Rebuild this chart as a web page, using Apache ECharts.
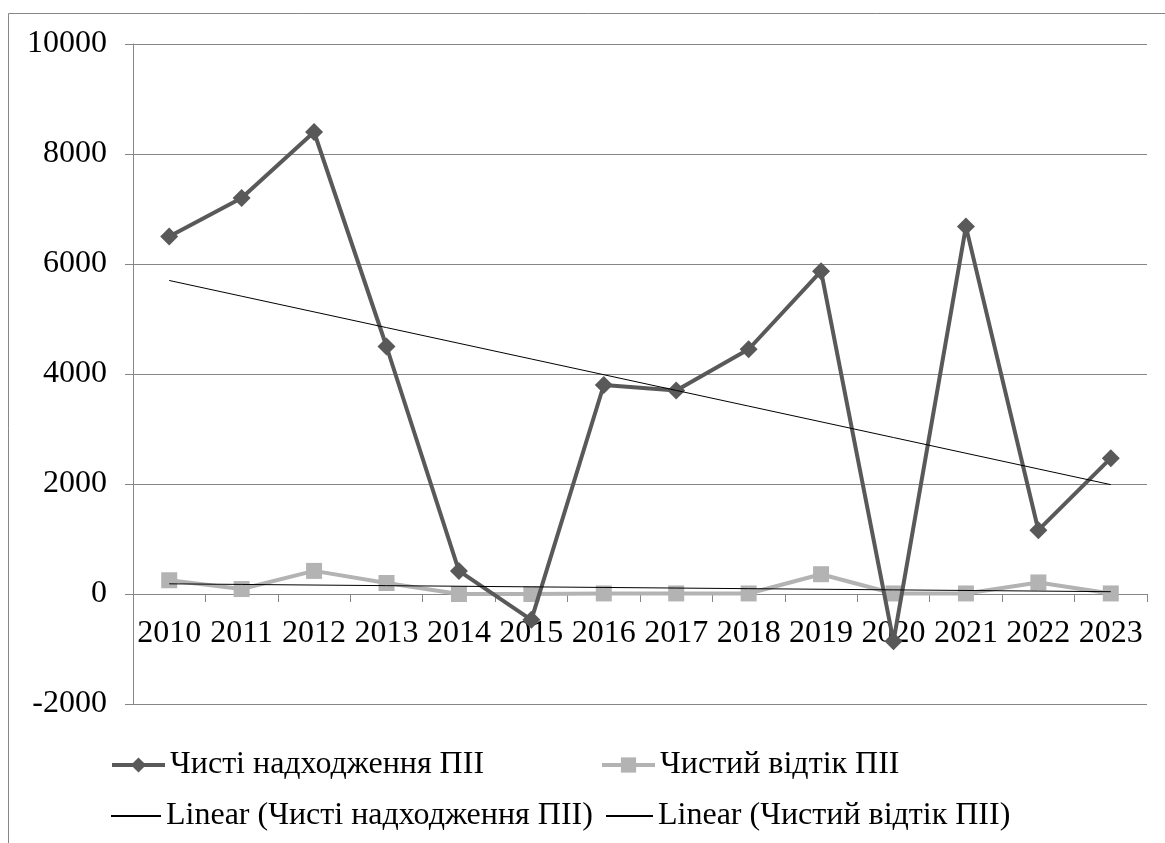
<!DOCTYPE html>
<html>
<head>
<meta charset="utf-8">
<script src="https://cdn.jsdelivr.net/npm/echarts@6/dist/echarts.min.js"></script>
<style>
  html, body { margin: 0; padding: 0; background: #ffffff; }
  #chart { width: 1165px; height: 843px; }
</style>
</head>
<body>
<div id="chart"></div>
<script>
// Years on the category axis
const years = ['2010', '2011', '2012', '2013', '2014', '2015', '2016',
               '2017', '2018', '2019', '2020', '2021', '2022', '2023'];

// Net FDI inflows
const netInflows = [6500, 7200, 8400, 4500, 420, -470, 3800,
                    3700, 4450, 5870, -860, 6680, 1160, 2470];

// Net FDI outflows
const netOutflows = [250, 90, 420, 200, 0, 0, 10,
                     10, 10, 360, 10, 10, 210, 10];

// Value-axis ticks
const yTicks = { min: -2000, max: 10000, step: 2000 };

const nameIn = 'Чисті надходження ПІІ';
const nameOut = 'Чистий відтік ПІІ';
const nameInTrend = 'Linear (Чисті надходження ПІІ)';
const nameOutTrend = 'Linear (Чистий відтік ПІІ)';

// Least-squares linear trend evaluated at every category position
function linearTrend(values) {
  const n = values.length;
  let sx = 0, sy = 0, sxx = 0, sxy = 0;
  values.forEach((v, i) => {
    const x = i + 1;
    sx += x; sy += v; sxx += x * x; sxy += x * v;
  });
  const slope = (n * sxy - sx * sy) / (n * sxx - sx * sx);
  const icept = (sy - slope * sx) / n;
  return values.map((_, i) => +(icept + slope * (i + 1)).toFixed(2));
}

const FONT = '"Liberation Serif", "Times New Roman", serif';
const FONT_SIZE = 32;
const AXIS_GREY = '#868686';
const DARK = '#595959';
const LIGHT = '#b3b3b3';

// Plot box in pixels
const GRID = { left: 133, right: 18, top: 44, bottom: 139 };
const CHART_H = 843;

const chart = echarts.init(document.getElementById('chart'), null, { renderer: 'canvas' });

// Distance from the bottom of the plot box up to the zero line
const plotH = CHART_H - GRID.top - GRID.bottom;
const zeroLift = plotH * (0 - yTicks.min) / (yTicks.max - yTicks.min);

function legendAt(entry, left, top, width) {
  return {
    data: [entry],
    left: left,
    top: top,
    orient: 'horizontal',
    itemWidth: width,
    itemHeight: 19,
    padding: 0,
    selectedMode: false,
    textStyle: { fontFamily: FONT, fontSize: FONT_SIZE, color: '#000000' }
  };
}

// Trend entries show only their thin line, no marker
const noMarker = { color: 'rgba(0,0,0,0)', borderWidth: 0, opacity: 0 };

chart.setOption({
  animation: false,
  backgroundColor: '#ffffff',
  textStyle: { fontFamily: FONT },
  graphic: [{
    type: 'rect',
    silent: true,
    shape: { x: 8.5, y: 13.5, width: 1300, height: 1000 },
    style: { fill: 'none', stroke: AXIS_GREY, lineWidth: 1 }
  }],
  grid: Object.assign({ containLabel: false }, GRID),
  legend: [
    legendAt({ name: nameIn, lineStyle: { width: 4 } }, 110, 749, 53),
    legendAt({ name: nameOut, lineStyle: { width: 4 } }, 600, 749, 53),
    legendAt({ name: nameInTrend, itemStyle: noMarker }, 110, 800, 50),
    legendAt({ name: nameOutTrend, itemStyle: noMarker }, 605, 800, 47)
  ],
  xAxis: {
    type: 'category',
    data: years,
    boundaryGap: true,
    position: 'bottom',
    offset: -zeroLift,
    axisLine: { show: true, onZero: false, lineStyle: { color: AXIS_GREY, width: 1 } },
    axisTick: { show: true, inside: false, length: 8, lineStyle: { color: AXIS_GREY } },
    axisLabel: { fontFamily: FONT, fontSize: FONT_SIZE, color: '#000000', margin: 24, interval: 0 },
    splitLine: { show: false }
  },
  yAxis: {
    type: 'value',
    min: yTicks.min,
    max: yTicks.max,
    interval: yTicks.step,
    axisLine: { show: true, lineStyle: { color: AXIS_GREY, width: 1 } },
    axisTick: { show: true, inside: false, length: 8, lineStyle: { color: AXIS_GREY } },
    axisLabel: {
      fontFamily: FONT, fontSize: FONT_SIZE, color: '#000000', margin: 26,
      formatter: (v) => String(v)
    },
    splitLine: { show: true, lineStyle: { color: AXIS_GREY, width: 1 } }
  },
  series: [
    {
      name: nameIn,
      type: 'line',
      data: netInflows,
      z: 3,
      symbol: 'diamond',
      symbolSize: 18,
      showAllSymbol: true,
      lineStyle: { color: DARK, width: 4 },
      itemStyle: { color: DARK },
      emphasis: { disabled: true }
    },
    {
      name: nameOut,
      type: 'line',
      data: netOutflows,
      z: 2,
      symbol: 'rect',
      symbolSize: 16,
      showAllSymbol: true,
      lineStyle: { color: LIGHT, width: 4 },
      itemStyle: { color: LIGHT },
      emphasis: { disabled: true }
    },
    {
      name: nameInTrend,
      type: 'line',
      data: linearTrend(netInflows),
      z: 4,
      symbol: 'none',
      lineStyle: { color: '#000000', width: 1 },
      itemStyle: { color: '#000000' },
      emphasis: { disabled: true }
    },
    {
      name: nameOutTrend,
      type: 'line',
      data: linearTrend(netOutflows),
      z: 4,
      symbol: 'none',
      lineStyle: { color: '#000000', width: 1 },
      itemStyle: { color: '#000000' },
      emphasis: { disabled: true }
    }
  ]
});
</script>
</body>
</html>
